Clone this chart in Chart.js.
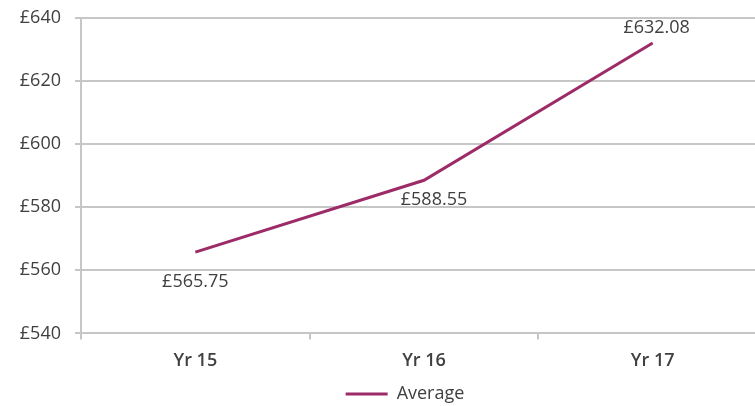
<!DOCTYPE html>
<html>
<head>
<meta charset="utf-8">
<script src="https://cdn.jsdelivr.net/npm/chart.js@4.4.1/dist/chart.umd.min.js"></script>
<style>
    html, body { margin: 0; padding: 0; background: #fff; overflow: hidden; }
    #wrap { width: 810px; height: 406px; }
</style>
</head>
<body>
<div id="wrap"><canvas id="avgChart"></canvas></div>
<script>
// Chart data
const years = ['Yr 15', 'Yr 16', 'Yr 17'];
const averageValues = [565.75, 588.55, 632.08];
const yTicks = [540, 560, 580, 600, 620, 640];

const lineColor = '#9c2b68';
const textColor = '#404040';
const gridColor = '#c6c6c6';
const fontFamily = "'Open Sans', 'Noto Sans', sans-serif";

// Offsets for the value labels, relative to each point
const labelOffsets = [[0, 30], [10, 20], [4, -15]];

const valueLabels = {
    id: 'valueLabels',
    afterDatasetsDraw(chart) {
        const ctx = chart.ctx;
        const meta = chart.getDatasetMeta(0);
        ctx.save();
        ctx.font = '18px ' + fontFamily;
        ctx.fillStyle = textColor;
        ctx.textAlign = 'center';
        ctx.textBaseline = 'middle';
        meta.data.forEach((pt, i) => {
            const [dx, dy] = labelOffsets[i];
            ctx.fillText('£' + averageValues[i].toFixed(2), pt.x + dx, pt.y + dy);
        });
        ctx.restore();
    }
};

new Chart(document.getElementById('avgChart').getContext('2d'), {
    type: 'line',
    data: {
        labels: years,
        datasets: [{
            label: 'Average',
            data: averageValues,
            borderColor: lineColor,
            backgroundColor: lineColor,
            borderWidth: 3,
            pointRadius: 0,
            tension: 0,
            yAxisID: 'y'
        }]
    },
    options: {
        responsive: true,
        maintainAspectRatio: false,
        animation: false,
        layout: { padding: { top: 18, left: 0, right: 0, bottom: -7 } },
        plugins: {
            tooltip: { enabled: false },
            legend: {
                position: 'bottom',
                labels: {
                    usePointStyle: true,
                    pointStyle: 'line',
                    pointStyleWidth: 42,
                    color: textColor,
                    padding: 2,
                    font: { family: fontFamily, size: 18 }
                }
            }
        },
        scales: {
            x: {
                offset: true,
                grid: {
                    offset: true,
                    drawOnChartArea: false,
                    drawTicks: true,
                    tickLength: 6,
                    color: gridColor,
                    lineWidth: 2
                },
                border: { display: true, color: gridColor, width: 2 },
                ticks: {
                    color: textColor,
                    padding: 11,
                    font: { family: fontFamily, size: 18, weight: '600' }
                }
            },
            y: {
                min: 540,
                max: 640,
                afterBuildTicks(scale) {
                    scale.ticks = yTicks.map(v => ({ value: v }));
                },
                afterFit(scale) {
                    scale.width = 81;
                    scale.paddingTop = 0;
                    scale.paddingBottom = 0;
                },
                grid: {
                    color: gridColor,
                    lineWidth: 2,
                    tickLength: 6
                },
                border: { display: true, color: gridColor, width: 2 },
                ticks: {
                    color: textColor,
                    padding: 14,
                    font: { family: fontFamily, size: 18 },
                    callback: v => '£' + v
                }
            },
            // spacer on the right, keeps the plot area narrower than the canvas
            pad: {
                position: 'right',
                min: 0,
                max: 1,
                grid: { display: false },
                border: { display: false },
                ticks: { display: false },
                afterFit(scale) { scale.width = 43; }
            }
        }
    },
    plugins: [valueLabels]
});
</script>
</body>
</html>
